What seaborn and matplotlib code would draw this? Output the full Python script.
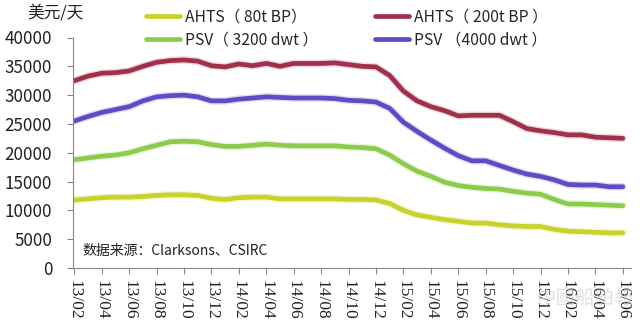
import matplotlib
matplotlib.use("Agg")
import matplotlib.pyplot as plt
import matplotlib.patheffects as pe
import seaborn as sns
import pandas as pd
from matplotlib.lines import Line2D

months = ["13/02","13/03","13/04","13/05","13/06","13/07","13/08","13/09","13/10","13/11",
          "13/12","14/01","14/02","14/03","14/04","14/05","14/06","14/07","14/08","14/09",
          "14/10","14/11","14/12","15/01","15/02","15/03","15/04","15/05","15/06","15/07",
          "15/08","15/09","15/10","15/11","15/12","16/01","16/02","16/03","16/04","16/05","16/06"]
tick_labels = ["13/02","13/04","13/06","13/08","13/10","13/12","14/02","14/04","14/06","14/08",
               "14/10","14/12","15/02","15/04","15/06","15/08","15/10","15/12","16/02","16/04","16/06"]

ahts80 = [11800,12000,12200,12300,12300,12400,12600,12700,12700,12600,
          12100,11900,12200,12300,12300,12000,12000,12000,12000,12000,
          11900,11900,11800,11200,10000,9200,8800,8400,8100,7800,
          7800,7500,7300,7200,7200,6700,6400,6300,6200,6100,6100]
ahts200 = [32500,33300,33800,33900,34200,35000,35700,36000,36100,35900,
           35100,34900,35400,35100,35500,35000,35500,35500,35500,35600,
           35300,35000,34900,33400,30700,29000,28000,27300,26400,26500,
           26500,26500,25400,24200,23800,23500,23100,23100,22700,22600,22500]
psv3200 = [18800,19100,19400,19600,20000,20700,21300,21900,22000,21900,
           21400,21100,21100,21300,21500,21300,21200,21200,21200,21200,
           21000,20900,20700,19600,18100,16800,15900,14900,14300,14000,
           13800,13700,13300,13000,12800,11900,11100,11100,11000,10900,10800]
psv4000 = [25500,26300,27000,27500,28000,29000,29700,29900,30000,29700,
           29000,29000,29300,29500,29700,29600,29500,29500,29500,29400,
           29100,29000,28800,27700,25300,23700,22200,20800,19500,18600,
           18600,17800,17000,16300,15900,15300,14500,14400,14400,14100,14100]

series_names = ["AHTS（ 80t BP）", "PSV（ 3200 dwt ）", "AHTS（ 200t BP ）", "PSV （4000 dwt ）"]
series_values = [ahts80, psv3200, ahts200, psv4000]
colors = ["#C9D12B", "#8DCB4C", "#A0304C", "#5B4EC4"]

rows = []
for name, vals in zip(series_names, series_values):
    for i, v in enumerate(vals):
        rows.append({"x": i, "value": v, "series": name})
df = pd.DataFrame(rows)

sns.set_style("white")
plt.rcParams['font.family'] = ['Noto Sans CJK SC', 'DejaVu Sans']

fig = plt.figure(figsize=(6.4, 3.31), dpi=100)
ax = fig.add_axes([73/640, 1-268/331, (631-73)/640, (268-37.5)/331])

sns.lineplot(data=df, x="x", y="value", hue="series", hue_order=series_names,
             palette=colors, linewidth=3.4, ax=ax, legend=False)
for line, c in zip(ax.lines, colors):
    line.set_path_effects([pe.Stroke(linewidth=5.5, foreground=c, alpha=0.18), pe.Normal()])
    line.set_solid_capstyle("round")

ax.set_xlim(-0.1, 40.6)
ax.set_ylim(0, 40000)
ax.set_yticks(range(0, 40001, 5000))
ax.set_yticklabels([str(v) for v in range(0, 40001, 5000)], fontsize=12.3, color="#222222")
ax.set_xticks(range(0, len(months), 2))
ax.set_xticklabels(tick_labels, rotation=-90, fontsize=12.5,
                   family="Liberation Serif", color="#222222")
ax.set_xlabel("")
ax.set_ylabel("")
for s in ["top", "right"]:
    ax.spines[s].set_visible(False)
for s in ["left", "bottom"]:
    ax.spines[s].set_color("#888888")
    ax.spines[s].set_linewidth(0.8)
ax.tick_params(axis="both", which="major", length=4, color="#888888", direction="out",
               left=True, bottom=True)
ax.tick_params(axis="y", pad=11)
ax.tick_params(axis="x", pad=5)

handles = [Line2D([0], [0], color=c, linewidth=3.4) for c in colors]
fig.legend(handles, series_names, ncol=2, loc="upper left", bbox_to_anchor=(137/640, 1.0),
           frameon=False, fontsize=11.3, handlelength=2.2, columnspacing=3.6,
           handletextpad=0.3, labelspacing=0.35, borderaxespad=0.15)

fig.text(55/640, 1-13/331, "美元/天", ha="center", va="center", fontsize=12, color="#222222")
fig.text(82/640, 1-251/331, "数据来源：Clarksons、CSIRC", fontsize=10,
         color="#222222", va="center", ha="left")
fig.text(585/640, 1-298/331, "中國船舶報", ha="center", va="center", fontsize=14,
         color="#cccccc", alpha=0.6)

fig.savefig("out.png", dpi=100)
